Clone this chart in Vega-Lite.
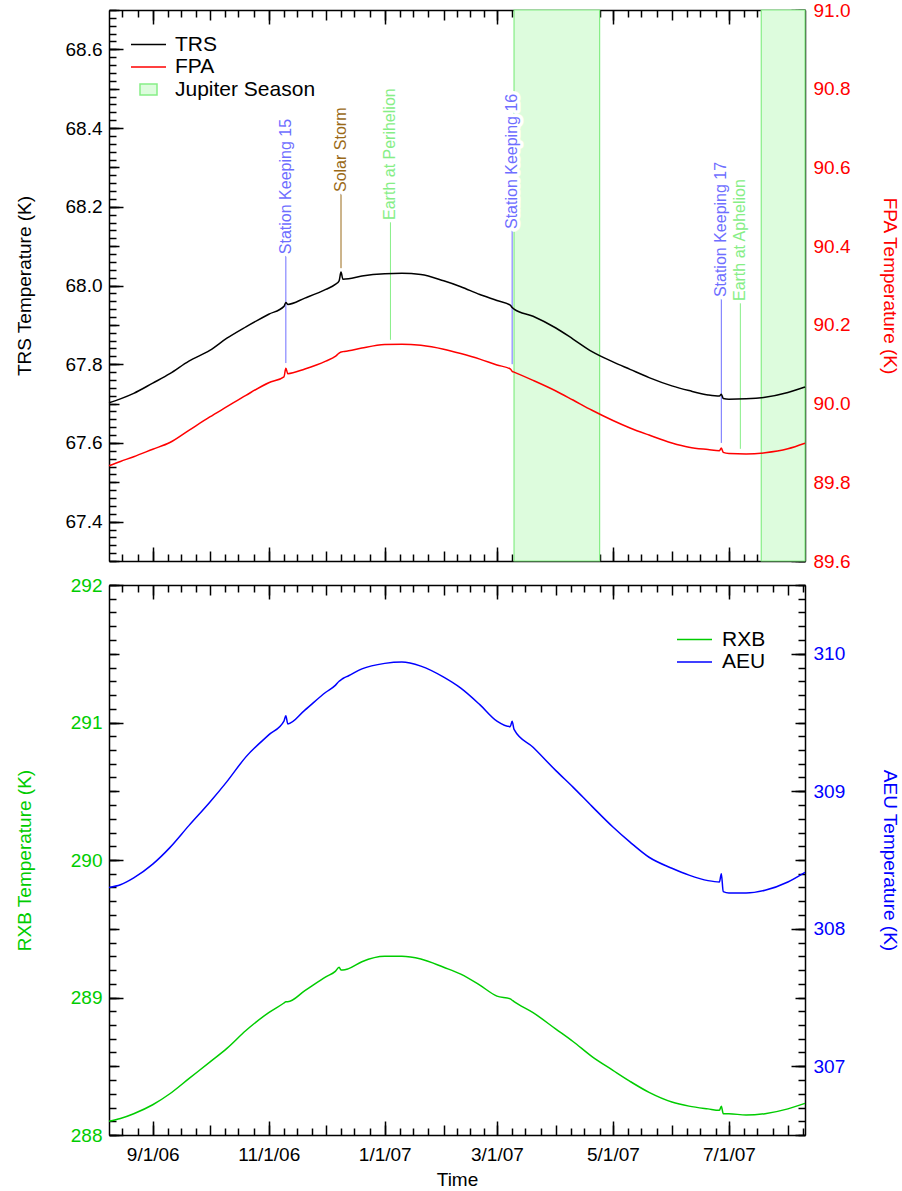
{
"$schema": "https://vega.github.io/schema/vega-lite/v6.json",
"background": "white",
"padding": {"left": 15, "top": 1, "right": 0, "bottom": 0},
"config": {
  "font": "Liberation Sans",
  "view": {"stroke": null},
  "axis": {"grid": false, "domainColor": "black", "tickColor": "black", "domainWidth": 1.5, "tickWidth": 1.5, "labelFont": "Liberation Sans", "labelFontSize": 19, "titleFont": "Liberation Sans", "titleFontSize": 19, "titleFontWeight": "normal", "labelColor": "black", "titleColor": "black", "labelFlush": false, "labelOverlap": false}
},
"datasets": {
  "temps": [
    {"date":"2006-08-09","TRS":67.702,"FPA":89.842,"RXB":288.10,"AEU":308.30},
    {"date":"2006-08-15","TRS":67.712,"FPA":89.853,"RXB":288.12,"AEU":308.32},
    {"date":"2006-08-22","TRS":67.726,"FPA":89.865,"RXB":288.155,"AEU":308.37},
    {"date":"2006-09-01","TRS":67.752,"FPA":89.884,"RXB":288.22,"AEU":308.47},
    {"date":"2006-09-10","TRS":67.776,"FPA":89.901,"RXB":288.30,"AEU":308.59},
    {"date":"2006-09-20","TRS":67.808,"FPA":89.932,"RXB":288.41,"AEU":308.75},
    {"date":"2006-10-01","TRS":67.835,"FPA":89.966,"RXB":288.53,"AEU":308.92},
    {"date":"2006-10-10","TRS":67.866,"FPA":89.992,"RXB":288.63,"AEU":309.07},
    {"date":"2006-10-20","TRS":67.895,"FPA":90.021,"RXB":288.76,"AEU":309.25},
    {"date":"2006-11-01","TRS":67.927,"FPA":90.053,"RXB":288.89,"AEU":309.41},
    {"date":"2006-11-09","TRS":67.947,"FPA":90.068,"RXB":288.96,"AEU":309.51},
    {"date":"2006-11-10","TRS":67.957,"FPA":90.090,"RXB":288.97,"AEU":309.55},
    {"date":"2006-11-11","TRS":67.952,"FPA":90.076,"RXB":288.97,"AEU":309.49},
    {"date":"2006-11-20","TRS":67.968,"FPA":90.088,"RXB":289.05,"AEU":309.59},
    {"date":"2006-12-01","TRS":67.990,"FPA":90.108,"RXB":289.15,"AEU":309.72},
    {"date":"2006-12-06","TRS":68.003,"FPA":90.120,"RXB":289.19,"AEU":309.77},
    {"date":"2006-12-08","TRS":68.012,"FPA":90.128,"RXB":289.22,"AEU":309.80},
    {"date":"2006-12-09","TRS":68.034,"FPA":90.131,"RXB":289.20,"AEU":309.81},
    {"date":"2006-12-10","TRS":68.016,"FPA":90.132,"RXB":289.20,"AEU":309.82},
    {"date":"2006-12-13","TRS":68.017,"FPA":90.134,"RXB":289.21,"AEU":309.84},
    {"date":"2006-12-20","TRS":68.024,"FPA":90.141,"RXB":289.26,"AEU":309.89},
    {"date":"2007-01-01","TRS":68.030,"FPA":90.150,"RXB":289.30,"AEU":309.93},
    {"date":"2007-01-10","TRS":68.031,"FPA":90.151,"RXB":289.30,"AEU":309.94},
    {"date":"2007-01-20","TRS":68.028,"FPA":90.148,"RXB":289.28,"AEU":309.91},
    {"date":"2007-02-01","TRS":68.012,"FPA":90.138,"RXB":289.22,"AEU":309.83},
    {"date":"2007-02-10","TRS":67.997,"FPA":90.127,"RXB":289.17,"AEU":309.75},
    {"date":"2007-02-20","TRS":67.977,"FPA":90.113,"RXB":289.09,"AEU":309.63},
    {"date":"2007-03-01","TRS":67.962,"FPA":90.098,"RXB":289.01,"AEU":309.51},
    {"date":"2007-03-08","TRS":67.950,"FPA":90.088,"RXB":288.99,"AEU":309.47},
    {"date":"2007-03-09","TRS":67.944,"FPA":90.082,"RXB":288.98,"AEU":309.51},
    {"date":"2007-03-10","TRS":67.940,"FPA":90.080,"RXB":288.97,"AEU":309.45},
    {"date":"2007-03-20","TRS":67.922,"FPA":90.059,"RXB":288.89,"AEU":309.32},
    {"date":"2007-04-01","TRS":67.892,"FPA":90.032,"RXB":288.77,"AEU":309.15},
    {"date":"2007-04-10","TRS":67.864,"FPA":90.009,"RXB":288.68,"AEU":309.03},
    {"date":"2007-04-20","TRS":67.832,"FPA":89.983,"RXB":288.57,"AEU":308.89},
    {"date":"2007-05-01","TRS":67.806,"FPA":89.957,"RXB":288.47,"AEU":308.74},
    {"date":"2007-05-10","TRS":67.787,"FPA":89.938,"RXB":288.39,"AEU":308.63},
    {"date":"2007-05-20","TRS":67.766,"FPA":89.920,"RXB":288.31,"AEU":308.52},
    {"date":"2007-06-01","TRS":67.745,"FPA":89.900,"RXB":288.24,"AEU":308.44},
    {"date":"2007-06-10","TRS":67.733,"FPA":89.889,"RXB":288.21,"AEU":308.39},
    {"date":"2007-06-20","TRS":67.722,"FPA":89.883,"RXB":288.19,"AEU":308.35},
    {"date":"2007-06-26","TRS":67.719,"FPA":89.880,"RXB":288.18,"AEU":308.34},
    {"date":"2007-06-27","TRS":67.724,"FPA":89.887,"RXB":288.21,"AEU":308.40},
    {"date":"2007-06-28","TRS":67.713,"FPA":89.876,"RXB":288.155,"AEU":308.27},
    {"date":"2007-07-01","TRS":67.711,"FPA":89.873,"RXB":288.155,"AEU":308.26},
    {"date":"2007-07-10","TRS":67.712,"FPA":89.872,"RXB":288.145,"AEU":308.26},
    {"date":"2007-07-20","TRS":67.716,"FPA":89.875,"RXB":288.155,"AEU":308.28},
    {"date":"2007-08-01","TRS":67.728,"FPA":89.885,"RXB":288.19,"AEU":308.34},
    {"date":"2007-08-10","TRS":67.742,"FPA":89.899,"RXB":288.23,"AEU":308.41}
  ],
  "events": [
    {"date":"2006-11-10","label":"Station Keeping 15","color":"#6e6eff","y0":67.803,"y1":68.077},
    {"date":"2006-12-09","label":"Solar Storm","color":"#9a6a18","y0":68.044,"y1":68.235},
    {"date":"2007-01-04","label":"Earth at Perihelion","color":"#86ee86","y0":67.862,"y1":68.164},
    {"date":"2007-03-09","label":"Station Keeping 16","color":"#6e6eff","y0":67.800,"y1":68.141},
    {"date":"2007-06-27","label":"Station Keeping 17","color":"#6e6eff","y0":67.600,"y1":67.968},
    {"date":"2007-07-07","label":"Earth at Aphelion","color":"#86ee86","y0":67.585,"y1":67.958}
  ],
  "jupiter": [
    {"start":"2007-03-10","end":"2007-04-24"},
    {"start":"2007-07-18","end":"2007-08-10"}
  ]
},
"vconcat": [
{
  "width": 696, "height": 551,
  "layer": [
    {"data": {"name": "jupiter"},
     "mark": {"type": "rect", "fill": "#ddfcdd", "stroke": "#86ee86", "strokeWidth": 1.2},
     "encoding": {
       "x": {"field": "start", "type": "temporal", "scale": {"type": "utc", "domain": [{"year":2006,"month":8,"date":9,"utc":true},{"year":2007,"month":8,"date":10,"utc":true}]}, "axis": null},
       "x2": {"field": "end"}
     }},
    {"data": {"name": "events"},
     "mark": {"type": "rule", "strokeWidth": 1},
     "encoding": {
       "x": {"field": "date", "type": "temporal", "axis": null},
       "y": {"field": "y0", "type": "quantitative", "scale": {"domain": [67.3, 68.7], "nice": false, "zero": false}, "axis": null},
       "y2": {"field": "y1"},
       "color": {"field": "color", "type": "nominal", "scale": null}
     }},
    {"data": {"name": "events"},
     "mark": {"type": "text", "angle": 270, "align": "left", "baseline": "middle", "dx": 1, "fontSize": 16, "font": "Liberation Sans", "fill": "white", "stroke": "white", "strokeWidth": 7, "strokeJoin": "round"},
     "encoding": {
       "x": {"field": "date", "type": "temporal", "axis": null},
       "y": {"field": "y1", "type": "quantitative", "scale": {"domain": [67.3, 68.7], "nice": false, "zero": false}, "axis": null},
       "text": {"field": "label"}
     }},
    {"data": {"name": "events"},
     "mark": {"type": "text", "angle": 270, "align": "left", "baseline": "middle", "dx": 1, "fontSize": 16, "font": "Liberation Sans"},
     "encoding": {
       "x": {"field": "date", "type": "temporal", "axis": null},
       "y": {"field": "y1", "type": "quantitative", "scale": {"domain": [67.3, 68.7], "nice": false, "zero": false}, "axis": null},
       "text": {"field": "label"},
       "color": {"field": "color", "type": "nominal", "scale": null}
     }},
    {"data": {"name": "temps"},
     "mark": {"type": "line", "strokeWidth": 1.5, "interpolate": "monotone"},
     "encoding": {
       "x": {"field": "date", "type": "temporal", "axis": {"orient": "bottom", "tickCount": {"interval": "month", "step": 2}, "tickSize": -14, "labels": false, "title": null}},
       "y": {"field": "TRS", "type": "quantitative", "scale": {"domain": [67.3, 68.7], "nice": false, "zero": false},
             "axis": {"orient": "left", "values": [67.4, 67.6, 67.8, 68.0, 68.2, 68.4, 68.6], "format": ".1f", "tickSize": -14, "labelPadding": 21, "title": "TRS Temperature (K)", "titlePadding": 31, "minExtent": 44, "maxExtent": 44}},
       "color": {"datum": "TRS", "type": "nominal", "title": null,
         "scale": {"domain": ["TRS", "FPA", "Jupiter Season"], "range": ["black", "red", "#86ee86"]},
         "legend": {"orient": "none", "legendX": 29, "legendY": 24, "title": null, "padding": 0, "rowPadding": 0.5,
           "labelFontSize": 21, "labelFont": "Liberation Sans", "labelColor": "black", "symbolSize": 100, "labelOffset": 16,
           "encode": {"symbols": {"update": {
             "shape": {"signal": "datum.value === 'Jupiter Season' ? 'M-1.7,-1.1L1.7,-1.1L1.7,1.1L-1.7,1.1Z' : 'M-3.5,0L3.5,0'"},
             "fill": {"signal": "datum.value === 'Jupiter Season' ? '#ddfcdd' : 'transparent'"},
             "stroke": {"signal": "datum.value === 'TRS' ? 'black' : (datum.value === 'FPA' ? 'red' : '#86ee86')"},
             "strokeWidth": {"value": 1.5},
             "opacity": {"value": 1}
           }}}}
       }
     }},
    {"data": {"name": "temps"},
     "mark": {"type": "line", "strokeWidth": 1.5, "interpolate": "monotone"},
     "encoding": {
       "x": {"field": "date", "type": "temporal", "axis": {"orient": "top", "tickCount": {"interval": "month", "step": 2}, "tickSize": -14, "labels": false, "title": null}},
       "y": {"field": "FPA", "type": "quantitative", "scale": {"domain": [89.6, 91.0], "nice": false, "zero": false},
             "axis": {"orient": "right", "values": [89.6, 89.8, 90.0, 90.2, 90.4, 90.6, 90.8, 91.0], "format": ".1f", "tickSize": -14, "labelPadding": 22, "title": "FPA Temperature (K)", "titlePadding": 29, "minExtent": 45, "maxExtent": 45, "labelColor": "red", "titleColor": "red"}},
       "color": {"datum": "FPA", "type": "nominal", "title": null,
         "legend": {"orient": "none", "legendX": 29, "legendY": 24, "title": null, "padding": 0, "rowPadding": 0.5,
           "labelFontSize": 21, "labelFont": "Liberation Sans", "labelColor": "black", "symbolSize": 100, "labelOffset": 16}}
     }},
    {"data": {"name": "temps"},
     "mark": {"type": "point", "opacity": 0},
     "encoding": {
       "x": {"field": "date", "type": "temporal", "axis": {"orient": "bottom", "tickCount": {"interval": "month", "step": 1}, "tickSize": -10, "labels": false, "domain": false, "title": null}},
       "y": {"field": "TRS", "type": "quantitative", "scale": {"domain": [67.3, 68.7], "nice": false, "zero": false},
             "axis": {"orient": "left", "tickCount": 14, "tickSize": -10, "labels": false, "domain": false, "title": null}}
     }},
    {"data": {"name": "temps"},
     "mark": {"type": "point", "opacity": 0},
     "encoding": {
       "x": {"field": "date", "type": "temporal", "axis": {"orient": "bottom", "tickSize": -7, "labels": false, "domain": false, "title": null,
         "values": [{"year":2006,"month":8,"date":16,"utc":true},{"year":2006,"month":8,"date":24,"utc":true},{"year":2006,"month":9,"date":9,"utc":true},{"year":2006,"month":9,"date":16,"utc":true},{"year":2006,"month":9,"date":24,"utc":true},{"year":2006,"month":10,"date":9,"utc":true},{"year":2006,"month":10,"date":16,"utc":true},{"year":2006,"month":10,"date":24,"utc":true},{"year":2006,"month":11,"date":9,"utc":true},{"year":2006,"month":11,"date":16,"utc":true},{"year":2006,"month":11,"date":24,"utc":true},{"year":2006,"month":12,"date":9,"utc":true},{"year":2006,"month":12,"date":16,"utc":true},{"year":2006,"month":12,"date":24,"utc":true},{"year":2007,"month":1,"date":9,"utc":true},{"year":2007,"month":1,"date":16,"utc":true},{"year":2007,"month":1,"date":24,"utc":true},{"year":2007,"month":2,"date":8,"utc":true},{"year":2007,"month":2,"date":15,"utc":true},{"year":2007,"month":2,"date":22,"utc":true},{"year":2007,"month":3,"date":9,"utc":true},{"year":2007,"month":3,"date":16,"utc":true},{"year":2007,"month":3,"date":24,"utc":true},{"year":2007,"month":4,"date":9,"utc":true},{"year":2007,"month":4,"date":16,"utc":true},{"year":2007,"month":4,"date":24,"utc":true},{"year":2007,"month":5,"date":9,"utc":true},{"year":2007,"month":5,"date":16,"utc":true},{"year":2007,"month":5,"date":24,"utc":true},{"year":2007,"month":6,"date":9,"utc":true},{"year":2007,"month":6,"date":16,"utc":true},{"year":2007,"month":6,"date":24,"utc":true},{"year":2007,"month":7,"date":9,"utc":true},{"year":2007,"month":7,"date":16,"utc":true},{"year":2007,"month":7,"date":24,"utc":true},{"year":2007,"month":8,"date":9,"utc":true}]}},
       "y": {"field": "TRS", "type": "quantitative", "scale": {"domain": [67.3, 68.7], "nice": false, "zero": false},
             "axis": {"orient": "left", "tickCount": 70, "tickSize": -7, "labels": false, "domain": false, "title": null}}
     }},
    {"data": {"name": "temps"},
     "mark": {"type": "point", "opacity": 0},
     "encoding": {
       "x": {"field": "date", "type": "temporal", "axis": {"orient": "top", "tickCount": {"interval": "month", "step": 1}, "tickSize": -10, "labels": false, "domain": false, "title": null}},
       "y": {"field": "FPA", "type": "quantitative", "scale": {"domain": [89.6, 91.0], "nice": false, "zero": false},
             "axis": {"orient": "right", "tickCount": 14, "tickSize": -10, "labels": false, "domain": false, "title": null}}
     }},
    {"data": {"name": "temps"},
     "mark": {"type": "point", "opacity": 0},
     "encoding": {
       "x": {"field": "date", "type": "temporal", "axis": {"orient": "top", "tickSize": -7, "labels": false, "domain": false, "title": null,
         "values": [{"year":2006,"month":8,"date":16,"utc":true},{"year":2006,"month":8,"date":24,"utc":true},{"year":2006,"month":9,"date":9,"utc":true},{"year":2006,"month":9,"date":16,"utc":true},{"year":2006,"month":9,"date":24,"utc":true},{"year":2006,"month":10,"date":9,"utc":true},{"year":2006,"month":10,"date":16,"utc":true},{"year":2006,"month":10,"date":24,"utc":true},{"year":2006,"month":11,"date":9,"utc":true},{"year":2006,"month":11,"date":16,"utc":true},{"year":2006,"month":11,"date":24,"utc":true},{"year":2006,"month":12,"date":9,"utc":true},{"year":2006,"month":12,"date":16,"utc":true},{"year":2006,"month":12,"date":24,"utc":true},{"year":2007,"month":1,"date":9,"utc":true},{"year":2007,"month":1,"date":16,"utc":true},{"year":2007,"month":1,"date":24,"utc":true},{"year":2007,"month":2,"date":8,"utc":true},{"year":2007,"month":2,"date":15,"utc":true},{"year":2007,"month":2,"date":22,"utc":true},{"year":2007,"month":3,"date":9,"utc":true},{"year":2007,"month":3,"date":16,"utc":true},{"year":2007,"month":3,"date":24,"utc":true},{"year":2007,"month":4,"date":9,"utc":true},{"year":2007,"month":4,"date":16,"utc":true},{"year":2007,"month":4,"date":24,"utc":true},{"year":2007,"month":5,"date":9,"utc":true},{"year":2007,"month":5,"date":16,"utc":true},{"year":2007,"month":5,"date":24,"utc":true},{"year":2007,"month":6,"date":9,"utc":true},{"year":2007,"month":6,"date":16,"utc":true},{"year":2007,"month":6,"date":24,"utc":true},{"year":2007,"month":7,"date":9,"utc":true},{"year":2007,"month":7,"date":16,"utc":true},{"year":2007,"month":7,"date":24,"utc":true},{"year":2007,"month":8,"date":9,"utc":true}]}},
       "y": {"field": "FPA", "type": "quantitative", "scale": {"domain": [89.6, 91.0], "nice": false, "zero": false},
             "axis": {"orient": "right", "tickCount": 70, "tickSize": -7, "labels": false, "domain": false, "title": null}}
     }}
  ],
  "resolve": {"scale": {"y": "independent"}, "axis": {"x": "independent", "y": "independent"}}
},
{
  "width": 696, "height": 550,
  "layer": [
    {"data": {"name": "temps"},
     "mark": {"type": "line", "strokeWidth": 1.5, "interpolate": "monotone"},
     "encoding": {
       "x": {"field": "date", "type": "temporal", "scale": {"type": "utc", "domain": [{"year":2006,"month":8,"date":9,"utc":true},{"year":2007,"month":8,"date":10,"utc":true}]},
             "axis": {"orient": "bottom", "tickCount": {"interval": "month", "step": 2}, "tickSize": -14, "labelPadding": 24, "format": "%-m/%-d/%y", "title": "Time", "titlePadding": 6}},
       "y": {"field": "RXB", "type": "quantitative", "scale": {"domain": [288, 292], "nice": false, "zero": false},
             "axis": {"orient": "left", "values": [288, 289, 290, 291, 292], "tickSize": -14, "labelPadding": 21, "title": "RXB Temperature (K)", "titlePadding": 31, "minExtent": 44, "maxExtent": 44, "labelColor": "#00cc00", "titleColor": "#00cc00"}},
       "color": {"datum": "RXB", "type": "nominal", "title": null,
         "scale": {"domain": ["RXB", "AEU"], "range": ["#00cc00", "#0000ff"]},
         "legend": {"orient": "none", "legendX": 575, "legendY": 44, "title": null, "padding": 0, "rowPadding": 0.5,
           "labelFontSize": 21, "labelFont": "Liberation Sans", "labelColor": "black", "symbolSize": 100, "labelOffset": 17,
           "encode": {"symbols": {"update": {
             "shape": {"value": "M-3.5,0L3.5,0"},
             "fill": {"value": "transparent"},
             "stroke": {"signal": "datum.value === 'RXB' ? '#00cc00' : '#0000ff'"},
             "strokeWidth": {"value": 1.5},
             "opacity": {"value": 1}
           }}}}
       }
     }},
    {"data": {"name": "temps"},
     "mark": {"type": "line", "strokeWidth": 1.5, "interpolate": "monotone"},
     "encoding": {
       "x": {"field": "date", "type": "temporal", "axis": {"orient": "top", "tickCount": {"interval": "month", "step": 2}, "tickSize": -14, "labels": false, "title": null}},
       "y": {"field": "AEU", "type": "quantitative", "scale": {"domain": [306.5, 310.5], "nice": false, "zero": false},
             "axis": {"orient": "right", "values": [307, 308, 309, 310], "tickSize": -14, "labelPadding": 22, "title": "AEU Temperature (K)", "titlePadding": 29, "minExtent": 45, "maxExtent": 45, "labelColor": "#0000ff", "titleColor": "#0000ff"}},
       "color": {"datum": "AEU", "type": "nominal", "title": null,
         "legend": {"orient": "none", "legendX": 575, "legendY": 44, "title": null, "padding": 0, "rowPadding": 0.5,
           "labelFontSize": 21, "labelFont": "Liberation Sans", "labelColor": "black", "symbolSize": 100, "labelOffset": 17}}
     }},
    {"data": {"name": "temps"},
     "mark": {"type": "point", "opacity": 0},
     "encoding": {
       "x": {"field": "date", "type": "temporal", "axis": {"orient": "bottom", "tickCount": {"interval": "month", "step": 1}, "tickSize": -10, "labels": false, "domain": false, "title": null}},
       "y": {"field": "RXB", "type": "quantitative", "scale": {"domain": [288, 292], "nice": false, "zero": false},
             "axis": {"orient": "left", "tickCount": 8, "tickSize": -10, "labels": false, "domain": false, "title": null}}
     }},
    {"data": {"name": "temps"},
     "mark": {"type": "point", "opacity": 0},
     "encoding": {
       "x": {"field": "date", "type": "temporal", "axis": {"orient": "bottom", "tickSize": -7, "labels": false, "domain": false, "title": null,
         "values": [{"year":2006,"month":8,"date":16,"utc":true},{"year":2006,"month":8,"date":24,"utc":true},{"year":2006,"month":9,"date":9,"utc":true},{"year":2006,"month":9,"date":16,"utc":true},{"year":2006,"month":9,"date":24,"utc":true},{"year":2006,"month":10,"date":9,"utc":true},{"year":2006,"month":10,"date":16,"utc":true},{"year":2006,"month":10,"date":24,"utc":true},{"year":2006,"month":11,"date":9,"utc":true},{"year":2006,"month":11,"date":16,"utc":true},{"year":2006,"month":11,"date":24,"utc":true},{"year":2006,"month":12,"date":9,"utc":true},{"year":2006,"month":12,"date":16,"utc":true},{"year":2006,"month":12,"date":24,"utc":true},{"year":2007,"month":1,"date":9,"utc":true},{"year":2007,"month":1,"date":16,"utc":true},{"year":2007,"month":1,"date":24,"utc":true},{"year":2007,"month":2,"date":8,"utc":true},{"year":2007,"month":2,"date":15,"utc":true},{"year":2007,"month":2,"date":22,"utc":true},{"year":2007,"month":3,"date":9,"utc":true},{"year":2007,"month":3,"date":16,"utc":true},{"year":2007,"month":3,"date":24,"utc":true},{"year":2007,"month":4,"date":9,"utc":true},{"year":2007,"month":4,"date":16,"utc":true},{"year":2007,"month":4,"date":24,"utc":true},{"year":2007,"month":5,"date":9,"utc":true},{"year":2007,"month":5,"date":16,"utc":true},{"year":2007,"month":5,"date":24,"utc":true},{"year":2007,"month":6,"date":9,"utc":true},{"year":2007,"month":6,"date":16,"utc":true},{"year":2007,"month":6,"date":24,"utc":true},{"year":2007,"month":7,"date":9,"utc":true},{"year":2007,"month":7,"date":16,"utc":true},{"year":2007,"month":7,"date":24,"utc":true},{"year":2007,"month":8,"date":9,"utc":true}]}},
       "y": {"field": "RXB", "type": "quantitative", "scale": {"domain": [288, 292], "nice": false, "zero": false},
             "axis": {"orient": "left", "tickCount": 40, "tickSize": -7, "labels": false, "domain": false, "title": null}}
     }},
    {"data": {"name": "temps"},
     "mark": {"type": "point", "opacity": 0},
     "encoding": {
       "x": {"field": "date", "type": "temporal", "axis": {"orient": "top", "tickCount": {"interval": "month", "step": 1}, "tickSize": -10, "labels": false, "domain": false, "title": null}},
       "y": {"field": "AEU", "type": "quantitative", "scale": {"domain": [306.5, 310.5], "nice": false, "zero": false},
             "axis": {"orient": "right", "tickCount": 8, "tickSize": -10, "labels": false, "domain": false, "title": null}}
     }},
    {"data": {"name": "temps"},
     "mark": {"type": "point", "opacity": 0},
     "encoding": {
       "x": {"field": "date", "type": "temporal", "axis": {"orient": "top", "tickSize": -7, "labels": false, "domain": false, "title": null,
         "values": [{"year":2006,"month":8,"date":16,"utc":true},{"year":2006,"month":8,"date":24,"utc":true},{"year":2006,"month":9,"date":9,"utc":true},{"year":2006,"month":9,"date":16,"utc":true},{"year":2006,"month":9,"date":24,"utc":true},{"year":2006,"month":10,"date":9,"utc":true},{"year":2006,"month":10,"date":16,"utc":true},{"year":2006,"month":10,"date":24,"utc":true},{"year":2006,"month":11,"date":9,"utc":true},{"year":2006,"month":11,"date":16,"utc":true},{"year":2006,"month":11,"date":24,"utc":true},{"year":2006,"month":12,"date":9,"utc":true},{"year":2006,"month":12,"date":16,"utc":true},{"year":2006,"month":12,"date":24,"utc":true},{"year":2007,"month":1,"date":9,"utc":true},{"year":2007,"month":1,"date":16,"utc":true},{"year":2007,"month":1,"date":24,"utc":true},{"year":2007,"month":2,"date":8,"utc":true},{"year":2007,"month":2,"date":15,"utc":true},{"year":2007,"month":2,"date":22,"utc":true},{"year":2007,"month":3,"date":9,"utc":true},{"year":2007,"month":3,"date":16,"utc":true},{"year":2007,"month":3,"date":24,"utc":true},{"year":2007,"month":4,"date":9,"utc":true},{"year":2007,"month":4,"date":16,"utc":true},{"year":2007,"month":4,"date":24,"utc":true},{"year":2007,"month":5,"date":9,"utc":true},{"year":2007,"month":5,"date":16,"utc":true},{"year":2007,"month":5,"date":24,"utc":true},{"year":2007,"month":6,"date":9,"utc":true},{"year":2007,"month":6,"date":16,"utc":true},{"year":2007,"month":6,"date":24,"utc":true},{"year":2007,"month":7,"date":9,"utc":true},{"year":2007,"month":7,"date":16,"utc":true},{"year":2007,"month":7,"date":24,"utc":true},{"year":2007,"month":8,"date":9,"utc":true}]}},
       "y": {"field": "AEU", "type": "quantitative", "scale": {"domain": [306.5, 310.5], "nice": false, "zero": false},
             "axis": {"orient": "right", "tickCount": 40, "tickSize": -7, "labels": false, "domain": false, "title": null}}
     }}
  ],
  "resolve": {"scale": {"y": "independent"}, "axis": {"x": "independent", "y": "independent"}}
}
],
"bounds": "flush",
"spacing": 24,
"resolve": {"scale": {"color": "independent"}}
}
